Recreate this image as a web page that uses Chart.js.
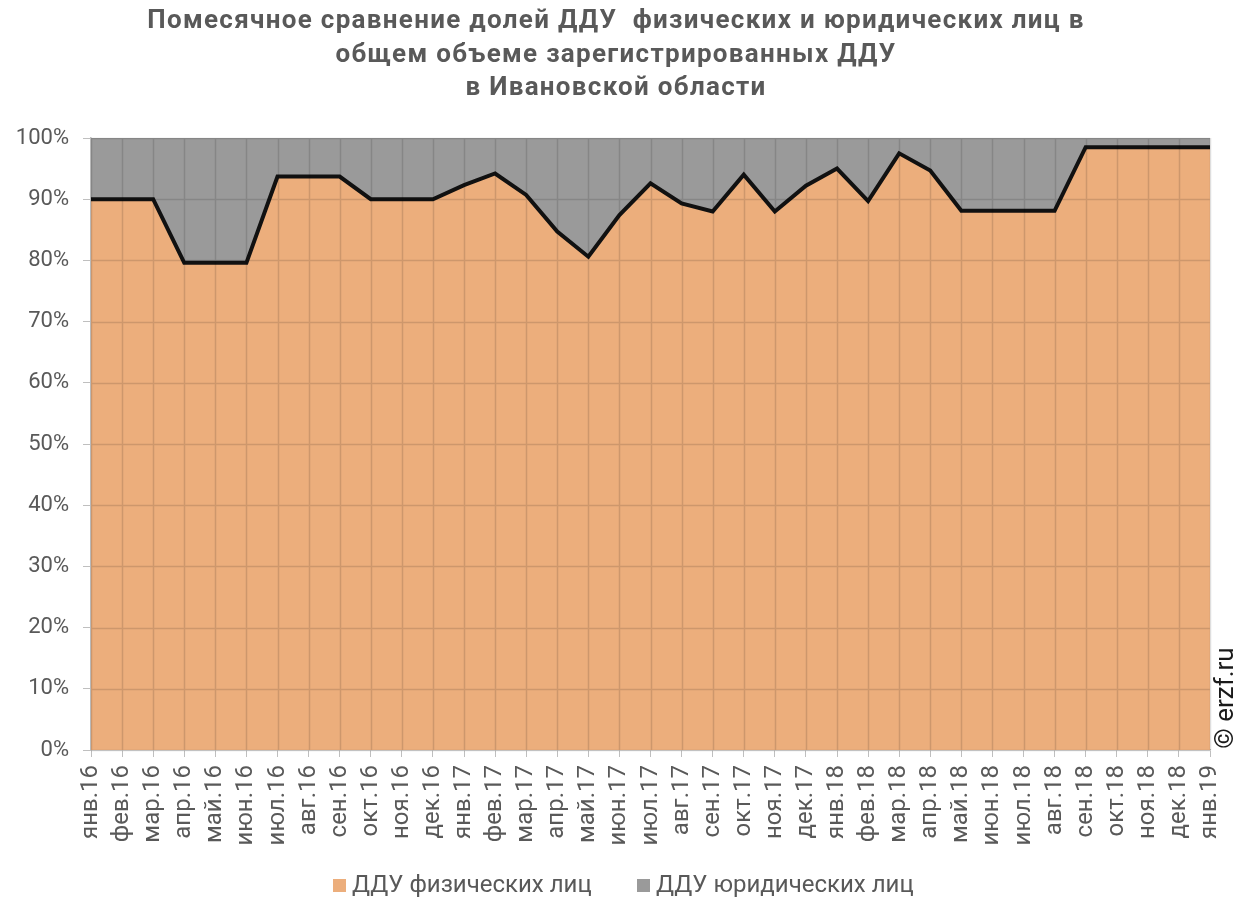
<!DOCTYPE html>
<html lang="ru">
<head>
    <meta charset="UTF-8">
    <title>Помесячное сравнение долей ДДУ</title>
    <script src="https://cdn.jsdelivr.net/npm/chart.js@4.4.0/dist/chart.umd.min.js"></script>
    <style>
        html, body { margin: 0; padding: 0; background: #fff; }
        .chart-box { position: relative; width: 1248px; height: 901px; }
    </style>
</head>
<body>
    <div class="chart-box">
        <canvas id="dduChart"></canvas>
    </div>

    <script>
        // Месяцы
        const months = [
            'янв.16', 'фев.16', 'мар.16', 'апр.16', 'май.16', 'июн.16', 'июл.16', 'авг.16', 'сен.16', 'окт.16', 'ноя.16', 'дек.16',
            'янв.17', 'фев.17', 'мар.17', 'апр.17', 'май.17', 'июн.17', 'июл.17', 'авг.17', 'сен.17', 'окт.17', 'ноя.17', 'дек.17',
            'янв.18', 'фев.18', 'мар.18', 'апр.18', 'май.18', 'июн.18', 'июл.18', 'авг.18', 'сен.18', 'окт.18', 'ноя.18', 'дек.18',
            'янв.19'
        ];

        // Доля ДДУ физических лиц, %
        const individuals = [
            90.0, 90.0, 90.0, 79.6, 79.6, 79.6, 93.7, 93.7, 93.7, 90.0, 90.0, 90.0,
            92.3, 94.2, 90.7, 84.7, 80.6, 87.4, 92.6, 89.3, 88.0, 94.0, 88.0, 92.2,
            95.0, 89.7, 97.5, 94.7, 88.1, 88.1, 88.1, 88.1, 98.5, 98.5, 98.5, 98.5,
            98.5
        ];

        // Доля ДДУ юридических лиц, %
        const companies = [
            10.0, 10.0, 10.0, 20.4, 20.4, 20.4, 6.3, 6.3, 6.3, 10.0, 10.0, 10.0,
            7.7, 5.8, 9.3, 15.3, 19.4, 12.6, 7.4, 10.7, 12.0, 6.0, 12.0, 7.8,
            5.0, 10.3, 2.5, 5.3, 11.9, 11.9, 11.9, 11.9, 1.5, 1.5, 1.5, 1.5,
            1.5
        ];

        const yTicks = [0, 10, 20, 30, 40, 50, 60, 70, 80, 90, 100];

        const titleLines = [
            'Помесячное сравнение долей ДДУ  физических и юридических лиц в',
            'общем объеме зарегистрированных ДДУ',
            'в Ивановской области'
        ];

        const textColor = '#595959';
        const orange = '#ecae7c';
        const grey = '#9a9a9a';
        const axisColor = '#bfbfbf';

        // сетка поверх заливки, чтобы линии просвечивали по обеим областям
        const gridOverlay = {
            id: 'gridOverlay',
            afterDatasetsDraw(chart) {
                const { ctx, chartArea: a, scales: { x, y } } = chart;
                ctx.save();
                ctx.strokeStyle = 'rgba(0,0,0,0.13)';
                ctx.lineWidth = 1.5;
                ctx.beginPath();
                x.ticks.forEach((t, i) => {
                    const px = Math.round(x.getPixelForTick(i)) + 0.5;
                    ctx.moveTo(px, a.top);
                    ctx.lineTo(px, a.bottom);
                });
                y.ticks.forEach((t, i) => {
                    const py = Math.round(y.getPixelForTick(i)) + 0.5;
                    ctx.moveTo(a.left, py);
                    ctx.lineTo(a.right, py);
                });
                ctx.stroke();
                ctx.restore();
            }
        };

        // заголовок, легенда и подпись источника
        const decorPlugin = {
            id: 'decor',
            afterDraw(chart) {
                const ctx = chart.ctx;
                ctx.save();
                ctx.fillStyle = textColor;
                ctx.font = 'bold 26px Roboto';
                ctx.letterSpacing = '1.3px';
                ctx.textAlign = 'center';
                ctx.textBaseline = 'middle';
                const ys = [21, 55, 88];
                titleLines.forEach((line, i) => ctx.fillText(line, 616, ys[i]));
                ctx.letterSpacing = '0px';

                // легенда
                ctx.font = '24px Roboto';
                ctx.textAlign = 'left';
                const legendX = [333, 637];
                chart.data.datasets.forEach((ds, i) => {
                    ctx.fillStyle = ds.backgroundColor;
                    ctx.fillRect(legendX[i], 879, 13, 13);
                    ctx.fillStyle = textColor;
                    ctx.fillText(ds.label, legendX[i] + 19, 886);
                });

                ctx.translate(1226, 698);
                ctx.rotate(-Math.PI / 2);
                ctx.textAlign = 'center';
                ctx.fillStyle = '#1a1a1a';
                ctx.font = '26px Roboto';
                ctx.fillText('© erzf.ru', 0, 0);
                ctx.restore();
            }
        };

        new Chart(document.getElementById('dduChart'), {
            type: 'line',
            data: {
                labels: months,
                datasets: [{
                    label: 'ДДУ физических лиц',
                    data: individuals,
                    backgroundColor: orange,
                    borderColor: '#111',
                    borderWidth: 4,
                    fill: 'origin',
                    pointRadius: 0,
                    tension: 0
                }, {
                    label: 'ДДУ юридических лиц',
                    data: companies,
                    backgroundColor: grey,
                    borderColor: grey,
                    borderWidth: 0,
                    fill: '-1',
                    pointRadius: 0,
                    tension: 0
                }]
            },
            options: {
                responsive: true,
                maintainAspectRatio: false,
                animation: false,
                layout: { padding: { top: 138, right: 38, left: 0, bottom: 0 } },
                plugins: {
                    title: { display: false },
                    tooltip: { enabled: false },
                    legend: { display: false }
                },
                scales: {
                    x: {
                        offset: false,
                        grid: {
                            offset: false,
                            drawOnChartArea: false,
                            tickLength: 7,
                            tickColor: axisColor
                        },
                        border: { color: axisColor, width: 1.5 },
                        ticks: {
                            autoSkip: false,
                            minRotation: 90,
                            maxRotation: 90,
                            color: textColor,
                            font: { family: 'Roboto', size: 24 },
                            padding: 8
                        },
                        afterFit(scale) { scale.height = 151; }
                    },
                    y: {
                        stacked: true,
                        min: 0,
                        max: 100,
                        afterBuildTicks(scale) {
                            scale.ticks = yTicks.map(v => ({ value: v }));
                        },
                        grid: {
                            drawOnChartArea: false,
                            tickLength: 8,
                            tickColor: axisColor
                        },
                        border: { color: axisColor, width: 1.5 },
                        ticks: {
                            color: textColor,
                            font: { family: 'Roboto', size: 22 },
                            padding: 14,
                            callback: v => v + '%'
                        },
                        afterFit(scale) { scale.width = 91; }
                    }
                }
            },
            plugins: [gridOverlay, decorPlugin]
        });
    </script>
</body>
</html>
